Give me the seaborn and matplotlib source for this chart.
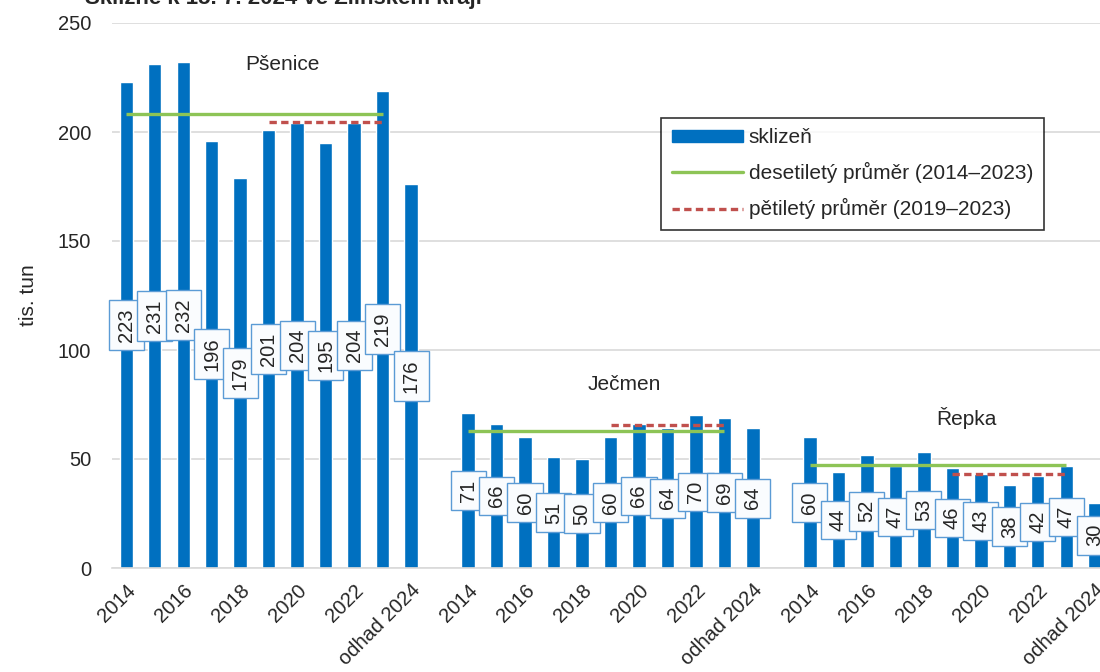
import matplotlib
matplotlib.use("Agg")
import matplotlib.pyplot as plt
from matplotlib.patches import Patch
from matplotlib.lines import Line2D
import pandas as pd
import seaborn as sns

# data
plodiny = ["Pšenice", "Ječmen", "Řepka"]
roky = ["2014", "2015", "2016", "2017", "2018", "2019", "2020", "2021", "2022", "2023", "odhad 2024"]
psenice = [223, 231, 232, 196, 179, 201, 204, 195, 204, 219, 176]
jecmen = [71, 66, 60, 51, 50, 60, 66, 64, 70, 69, 64]
repka = [60, 44, 52, 47, 53, 46, 43, 38, 42, 47, 30]
prumer_10 = [208.4, 62.7, 47.2]   # 2014-2023
prumer_5 = [204.6, 65.8, 43.2]    # 2019-2023
popisky_x = ["2014", "", "2016", "", "2018", "", "2020", "", "2022", "", "odhad 2024"]
nazvy_pos = [(5.5, 231), (17.5, 84), (29.5, 69)]

modra = "#0070C0"
zelena = "#8DC456"
cervena = "#C0504D"

sns.set_theme(style="white")
plt.rcParams["font.family"] = ["Liberation Sans", "DejaVu Sans"]

rows = []
order = []
for g, (nazev, hodnoty) in enumerate(zip(plodiny, [psenice, jecmen, repka])):
    for rok, v in zip(roky, hodnoty):
        key = f"{nazev} {rok}"
        rows.append({"key": key, "sklizen": v})
        order.append(key)
    if g < len(plodiny) - 1:
        order.append(f"mezera {g}")
df = pd.DataFrame(rows)

fig = plt.figure(figsize=(11, 6.72), dpi=100)
ax = fig.add_axes([112 / 1100, 104 / 672, 997 / 1100, 545 / 672])

sns.barplot(data=df, x="key", y="sklizen", order=order, color=modra,
            width=0.47, saturation=1, ax=ax, zorder=2)

# averages and data labels
for g, hodnoty in enumerate([psenice, jecmen, repka]):
    start = g * 12
    ax.hlines(prumer_10[g], start, start + 9, color=zelena, lw=2.4, zorder=3)
    ax.hlines(prumer_5[g], start + 5, start + 9, color=cervena, lw=2.4,
              linestyles=(0, (2.2, 1.3)), zorder=3)
    for i, v in enumerate(hodnoty):
        ax.text(start + i, v / 2, str(v), rotation=90, ha="center", va="center",
                fontsize=14.5, zorder=4,
                bbox=dict(boxstyle="square,pad=0.4", fc="#FAFCFE", ec="#5B9BD5", lw=1))
    x, y = nazvy_pos[g]
    ax.text(x, y, plodiny[g], ha="center", va="center", fontsize=15)

ax.set_ylim(0, 250)
ax.set_xlim(-0.5, len(order) - 0.5)
ax.set_yticks(range(0, 251, 50))
ax.yaxis.grid(True, color="#D9D9D9", lw=1.2)
ax.set_axisbelow(True)
ax.tick_params(axis="y", length=0, labelsize=14.5, pad=15)
ax.set_ylabel("tis. tun", fontsize=15, labelpad=14)
ax.set_xlabel("")

# tick marks at slot boundaries, labels at bar centres
ax.set_xticks([i - 0.5 for i in range(len(order) + 1)])
ax.set_xticklabels([])
ax.tick_params(axis="x", which="major", length=5, color="#BFBFBF", width=1)
label_pos, label_txt = [], []
for g in range(3):
    for i, t in enumerate(popisky_x):
        if t:
            label_pos.append(g * 12 + i)
            label_txt.append(t)
ax.set_xticks(label_pos, minor=True)
ax.set_xticklabels(label_txt, minor=True, rotation=45, ha="right",
                   rotation_mode="anchor", fontsize=14.5)
ax.tick_params(axis="x", which="minor", length=0, pad=9)

for s in ["left", "right", "top"]:
    ax.spines[s].set_visible(False)
ax.spines["bottom"].set_color("#D9D9D9")
ax.spines["bottom"].set_linewidth(1.2)

handles = [Patch(color=modra),
           Line2D([], [], color=zelena, lw=2.4),
           Line2D([], [], color=cervena, lw=2.4, ls=(0, (2.2, 1.3)))]
labels = ["sklizeň", "desetiletý průměr (2014–2023)", "pětiletý průměr (2019–2023)"]
leg = ax.legend(handles, labels, loc="upper left", bbox_to_anchor=(0.551, 0.826),
                fontsize=15, frameon=True, fancybox=False, handlelength=3.4,
                handleheight=0.55, labelspacing=0.72, borderpad=0.5, handletextpad=0.3,
                borderaxespad=0)
leg.get_frame().set_edgecolor("black")
leg.get_frame().set_linewidth(1.2)

# title cut off at the top edge as in the original
fig.text(85 / 1100, 1 - 4 / 672, "Sklizně k 15. 7. 2024 ve Zlínském kraji",
         fontsize=16, fontweight="bold", ha="left", va="baseline")

fig.savefig("out.png", dpi=100)
